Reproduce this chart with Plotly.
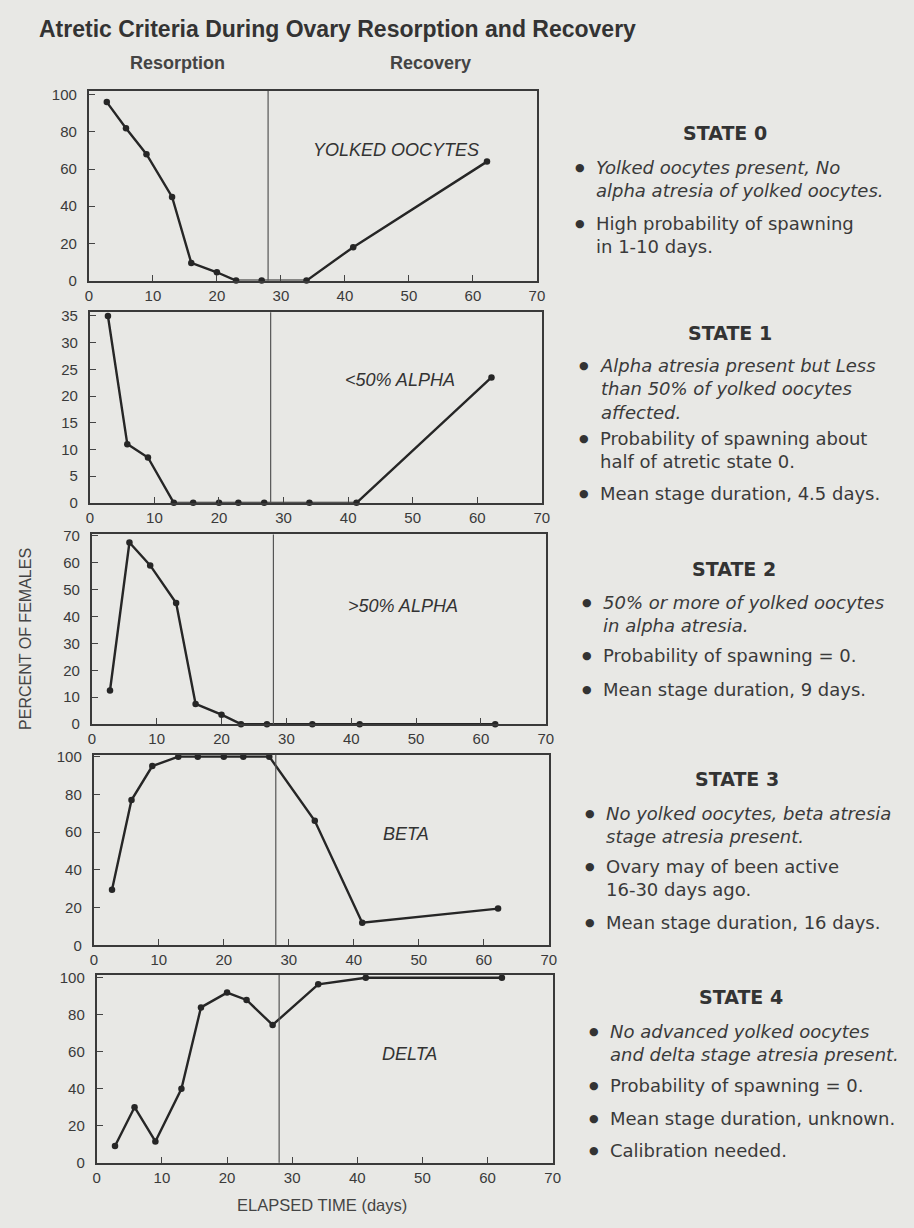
import plotly.graph_objects as go

# ---------------- data ----------------
days = [2.8, 5.8, 9.0, 13.0, 16.0, 20.0, 23.0, 27.0, 34.0, 41.3, 62.2]
yolked_oocytes = [96, 82, 68, 45, 9.5, 4.5, 0, 0, 0, 18, 64]
alpha_lt50 = [35, 11, 8.5, 0, 0, 0, 0, 0, 0, 0, 23.5]
alpha_gt50 = [12.5, 67.5, 59, 45, 7.5, 3.5, 0, 0, 0, 0, 0]
beta = [29.5, 77, 95, 100, 100, 100, 100, 100, 66, 12, 19.5]
delta = [9, 30, 11.5, 40, 84, 92, 88, 74.5, 96.5, 100, 100]

panel_labels = ["YOLKED OOCYTES", "<50% ALPHA", ">50% ALPHA", "BETA", "DELTA"]
y_max = [100, 35, 70, 100, 100]
y_step = [20, 5, 10, 20, 20]
x_ticks = [0, 10, 20, 30, 40, 50, 60, 70]
split_day = 28

states = [
    ("STATE 0", [
        ["Yolked oocytes present, No", "alpha atresia of yolked oocytes."],
        ["High probability of spawning", "in 1-10 days."],
    ]),
    ("STATE 1", [
        ["Alpha atresia present but Less", "than 50% of yolked oocytes", "affected."],
        ["Probability of spawning about", "half of atretic state 0."],
        ["Mean stage duration, 4.5 days."],
    ]),
    ("STATE 2", [
        ["50% or more of yolked oocytes", "in alpha atresia."],
        ["Probability of spawning = 0."],
        ["Mean stage duration, 9 days."],
    ]),
    ("STATE 3", [
        ["No yolked oocytes, beta atresia", "stage atresia present."],
        ["Ovary may of been active", "16-30 days ago."],
        ["Mean stage duration, 16 days."],
    ]),
    ("STATE 4", [
        ["No advanced yolked oocytes", "and delta stage atresia present."],
        ["Probability of spawning = 0."],
        ["Mean stage duration, unknown."],
        ["Calibration needed."],
    ]),
]

series = [yolked_oocytes, alpha_lt50, alpha_gt50, beta, delta]

# ---------------- layout geometry (pixels) ----------------
W, H = 914, 1228
BG = "#e8e8e5"
INK = "#2e2e2e"
FONT = "Liberation Sans, Arial, Helvetica, sans-serif"
WIDE = "DejaVu Sans, Verdana, sans-serif"

boxes = [  # left, right, top, bottom
    (86, 540, 85, 277),
    (87, 545, 309, 502),
    (89, 549, 534, 726),
    (91, 552, 757, 950),
    (94, 556, 980, 1170),
]
y_over = [1.02, 1.02, 1.007, 1.01, 1.015]
label_x = 48
label_y = [70, 23, 44, 59, 59]

fig = go.Figure()
layout = dict(
    width=W, height=H,
    margin=dict(l=0, r=0, t=0, b=0),
    paper_bgcolor=BG, plot_bgcolor=BG,
    showlegend=False,
    font=dict(family=FONT, color=INK, size=15),
)
annotations = []
shapes = []

for i, (vals, box) in enumerate(zip(series, boxes)):
    n = "" if i == 0 else str(i + 1)
    l, r, t, b = box
    xa = "xaxis" + n
    ya = "yaxis" + n
    fig.add_trace(go.Scatter(
        x=days, y=vals, mode="lines+markers",
        line=dict(color="#262626", width=2.4),
        marker=dict(color="#262626", size=6.5),
        xaxis="x" + n, yaxis="y" + n, cliponaxis=False,
    ))
    layout[xa] = dict(
        domain=[l / W, r / W], range=[0, 70], anchor="y" + n,
        tickvals=x_ticks, ticks="inside", ticklen=6, tickwidth=1.2,
        tickcolor="#444", showgrid=False, zeroline=False,
        showline=True, linecolor="#3a3a3a", linewidth=2, mirror=True,
        tickfont=dict(size=15, color="#3a3a3a"), fixedrange=True,
    )
    ticks_y = list(range(0, y_max[i] + 1, y_step[i]))
    layout[ya] = dict(
        domain=[1 - b / H, 1 - t / H], range=[0, y_max[i] * y_over[i]],
        anchor="x" + n, tickvals=ticks_y, ticks="inside", ticklen=6,
        tickwidth=1.2, tickcolor="#444", showgrid=False, zeroline=False,
        showline=True, linecolor="#3a3a3a", linewidth=2, mirror=True,
        tickfont=dict(size=15, color="#3a3a3a"), fixedrange=True,
        ticklabelstandoff=7,
    )
    shapes.append(dict(
        type="line", xref="x" + n, yref="y" + n + " domain",
        x0=split_day, x1=split_day, y0=0, y1=1,
        line=dict(color="#555", width=1.2),
    ))
    annotations.append(dict(
        x=label_x, y=label_y[i], xref="x" + n, yref="y" + n,
        xanchor="center", yanchor="middle",
        text="<i>" + panel_labels[i].replace("<", "&lt;").replace(">", "&gt;") + "</i>",
        showarrow=False, font=dict(size=18, color="#333"),
    ))


def px(xp, yp):
    return xp / W, 1 - yp / H


def add_text(xp, yp, text, size, xanchor="center", color="#333", family=FONT,
             angle=0, align="center"):
    ax, ay = px(xp, yp)
    annotations.append(dict(x=ax, y=ay, xref="paper", yref="paper",
                            xanchor=xanchor, yanchor="middle", text=text,
                            textangle=angle, showarrow=False, align=align,
                            font=dict(size=size, color=color, family=family)))


# Title and phase headers
add_text(33, 22, "<b>Atretic Criteria During Ovary Resorption and Recovery</b>", 23,
         xanchor="left", color="#333")
add_text(176, 57, "<b>Resorption</b>", 18, color="#444")
add_text(432, 57, "<b>Recovery</b>", 18, color="#444")

# axis titles
add_text(21, 640, "PERCENT OF FEMALES", 16, color="#444", angle=-90)
add_text(322, 1213, "ELAPSED TIME (days)", 16.5, color="#444")

# right-hand state descriptions
TS = 18
LS = TS * 1.3
state_pos = [  # heading centre x, heading y, bullet x, text x, first-line y per bullet
    (731, 128, 584, 598, [162, 219]),
    (736, 330, 588, 602, [363, 437, 493]),
    (740, 569, 591, 605, [603, 657, 691]),
    (743, 782, 594, 608, [816, 870, 927]),
    (747, 1002, 598, 612, [1037, 1092, 1125, 1158]),
]
for (head, bullets), (hx, hy, bx, txx, first_ys) in zip(states, state_pos):
    add_text(hx, hy, "<b>" + head + "</b>", 19, color="#333", family=WIDE)
    for k, (lines, y0) in enumerate(zip(bullets, first_ys)):
        add_text(bx, y0, "●", 11, color="#333", family=WIDE)
        body = "<br>".join("<i>" + ln + "</i>" if k == 0 else ln for ln in lines)
        yc = y0 + LS * (len(lines) - 1) / 2
        add_text(txx, yc, body, TS, xanchor="left", color="#3a3a3a", family=WIDE,
                 align="left")

layout["annotations"] = annotations
layout["shapes"] = shapes
fig.update_layout(**layout)
fig.write_html("out.html", config={"displayModeBar": False},
               post_script="document.body.style.margin='0';")
